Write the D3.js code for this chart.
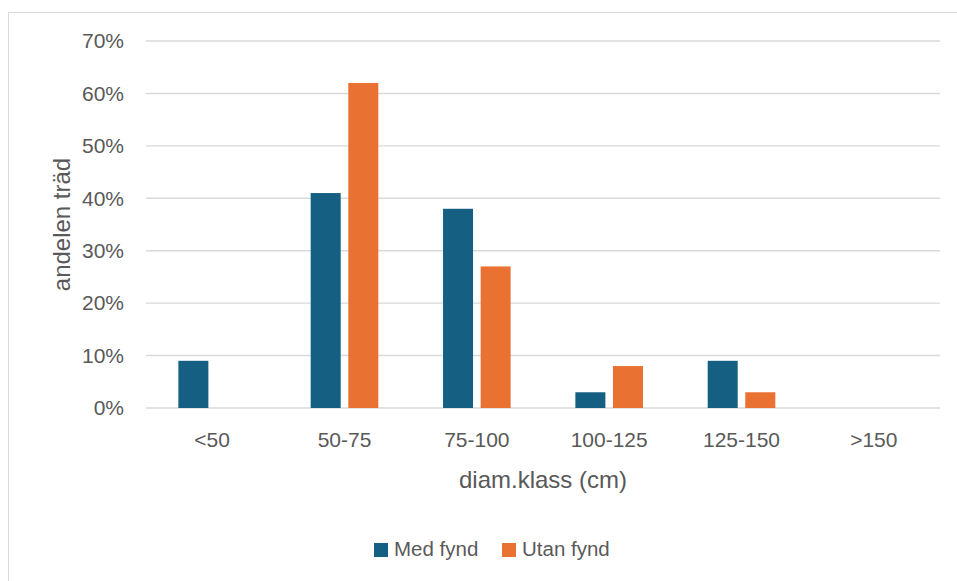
<!DOCTYPE html>
<html>
<head>
<meta charset="utf-8">
<script src="https://cdn.jsdelivr.net/npm/d3@7"></script>
<style>
  html, body { margin: 0; padding: 0; background: #fff; }
  svg { display: block; }
  text { font-family: "Liberation Sans", Arial, sans-serif; fill: #595959; }
</style>
</head>
<body>
<div id="chart"></div>
<script>
// Share of trees per diameter class, with and without finds
const categories = ["<50", "50-75", "75-100", "100-125", "125-150", ">150"];
const seriesNames = ["Med fynd", "Utan fynd"];
const medFynd = [0.09, 0.41, 0.38, 0.03, 0.09, 0.00];
const utanFynd = [0.00, 0.62, 0.27, 0.08, 0.03, 0.00];
const yTicks = [0, 0.1, 0.2, 0.3, 0.4, 0.5, 0.6, 0.7];
const colors = ["#156082", "#E97132"];

const W = 957, H = 581;
const plot = { left: 146, right: 940, top: 41, bottom: 408 };
const FONT = '"Liberation Sans", Arial, sans-serif';

const svg = d3.select("#chart").append("svg")
  .attr("width", W).attr("height", H);

// chart area frame
svg.append("rect")
  .attr("x", 8.5).attr("y", 12.5)
  .attr("width", W + 10).attr("height", H + 10)
  .attr("fill", "none").attr("stroke", "#d9d9d9").attr("stroke-width", 1);

const x0 = d3.scaleBand().domain(categories)
  .range([plot.left, plot.right])
  .paddingInner(0.489).paddingOuter(0.489 / 2);
const x1 = d3.scaleBand().domain(seriesNames)
  .range([0, x0.bandwidth()]).paddingInner(0.202);
const y = d3.scaleLinear().domain([0, 0.7]).range([plot.bottom, plot.top]);

// horizontal gridlines
svg.append("g").selectAll("line").data(yTicks).join("line")
  .attr("x1", plot.left).attr("x2", plot.right)
  .attr("y1", d => y(d)).attr("y2", d => y(d))
  .attr("stroke", "#d9d9d9").attr("stroke-width", 1.4);

// y axis labels
const yAxis = d3.axisLeft(y).tickValues(yTicks)
  .tickFormat(d3.format(".0%")).tickSize(0).tickPadding(0);
const gy = svg.append("g").attr("transform", `translate(124,0)`).call(yAxis);
gy.select(".domain").remove();
gy.selectAll("text").attr("font-size", 21).attr("fill", "#595959")
  .style("font-family", FONT);

// bars
const rows = categories.map((c, i) => ({ cat: c, vals: [medFynd[i], utanFynd[i]] }));
const groups = svg.append("g").selectAll("g").data(rows).join("g")
  .attr("transform", d => `translate(${x0(d.cat)},0)`);
groups.selectAll("rect")
  .data(d => d.vals.map((v, k) => ({ key: seriesNames[k], v, k })))
  .join("rect")
  .attr("x", d => x1(d.key))
  .attr("width", x1.bandwidth())
  .attr("y", d => y(d.v))
  .attr("height", d => y(0) - y(d.v))
  .attr("fill", d => colors[d.k]);

// x axis labels
const xAxis = d3.axisBottom(x0).tickSize(0).tickPadding(0);
const gx = svg.append("g").attr("transform", `translate(0,${plot.bottom})`).call(xAxis);
gx.select(".domain").remove();
gx.selectAll("text").attr("font-size", 21).attr("fill", "#595959")
  .attr("dy", null).attr("y", 39)
  .style("font-family", FONT);

// axis titles
svg.append("text")
  .attr("x", (plot.left + plot.right) / 2).attr("y", 488)
  .attr("text-anchor", "middle").attr("font-size", 24)
  .text("diam.klass (cm)");
svg.append("text")
  .attr("transform", `translate(70,${(plot.top + plot.bottom) / 2}) rotate(-90)`)
  .attr("text-anchor", "middle").attr("font-size", 24)
  .text("andelen träd");

// legend
const legend = svg.append("g");
const legendItems = [{ name: seriesNames[0], x: 374 }, { name: seriesNames[1], x: 502 }];
legendItems.forEach((it, k) => {
  legend.append("rect").attr("x", it.x).attr("y", 543)
    .attr("width", 14).attr("height", 14).attr("fill", colors[k]);
  legend.append("text").attr("x", it.x + 20).attr("y", 556)
    .attr("font-size", 20.5).text(it.name);
});
</script>
</body>
</html>
